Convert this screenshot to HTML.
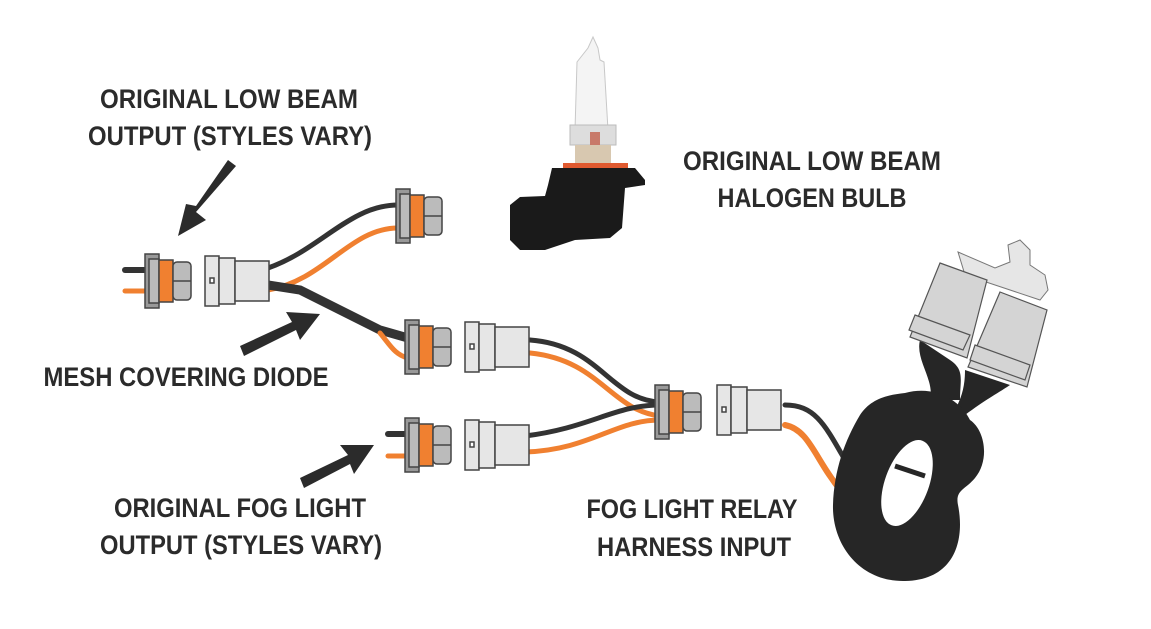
<!DOCTYPE html>
<html><head><style>
body{margin:0;background:#fff;width:1151px;height:629px;overflow:hidden}
svg{display:block}
text{font-family:"Liberation Sans",sans-serif;font-weight:bold;fill:#2b2b2b;font-size:27px;text-anchor:middle}
</style></head><body>
<svg width="1151" height="629" viewBox="0 0 1151 629">
<defs>
<g id="f" stroke="#444" stroke-width="1.5">
<rect x="0" y="-27" width="14" height="54" fill="#999"/>
<rect x="4" y="-22" width="10" height="44" fill="#bbb"/>
<rect x="14" y="-21" width="14" height="42" fill="#f08030"/>
<rect x="28" y="-19" width="18" height="38" rx="4" fill="#bbb"/>
<line x1="28" y1="0" x2="46" y2="0"/>
</g>
<g id="m" stroke="#444" stroke-width="1.5" fill="#e6e6e6">
<rect x="0" y="-25" width="14" height="50"/>
<rect x="14" y="-23" width="16" height="46"/>
<rect x="30" y="-20" width="34" height="40"/>
<rect x="5" y="-3" width="4" height="5" fill="#fff"/>
</g>
</defs>
<g fill="none" stroke-linecap="round">
<path d="M268 268 C320 250,350 205,398 205" stroke="#333" stroke-width="5"/>
<path d="M268 290 C325 280,350 228,398 228" stroke="#f08030" stroke-width="5"/>
<path d="M268 285 L300 290 L380 330 L408 338" stroke="#333" stroke-width="9"/>
<path d="M380 333 C390 345,395 355,408 358" stroke="#f08030" stroke-width="5"/>
<path d="M530 340 C600 345,610 400,660 402" stroke="#333" stroke-width="5"/>
<path d="M530 353 C600 360,610 410,660 416" stroke="#f08030" stroke-width="5"/>
<path d="M525 436 C590 428,615 405,660 405" stroke="#333" stroke-width="5"/>
<path d="M525 452 C590 450,615 420,660 420" stroke="#f08030" stroke-width="5"/>
<path d="M785 405 C815 405,825 425,845 460" stroke="#333" stroke-width="5"/>
<path d="M785 425 C810 430,815 460,842 492" stroke="#f08030" stroke-width="6"/>
<path d="M125 270 H145" stroke="#333" stroke-width="6"/>
<path d="M125 291 H145" stroke="#f08030" stroke-width="5"/>
<path d="M388 434 H405" stroke="#333" stroke-width="6"/>
<path d="M388 456 H405" stroke="#f08030" stroke-width="5"/>
</g>
<use href="#f" x="145" y="281"/>
<use href="#m" x="205" y="281"/>
<use href="#f" x="396" y="216"/>
<use href="#f" x="405" y="347"/>
<use href="#m" x="465" y="347"/>
<use href="#f" x="405" y="445"/>
<use href="#m" x="465" y="445"/>
<use href="#f" x="655" y="412"/>
<use href="#m" x="717" y="410"/>
<!-- bulb -->
<path d="M593 37 L598 48 L600 60 L604 62 L608 130 L575 130 L577 62 L588 48 Z" fill="#f4f4f4" stroke="#c8c8c8"/>
<rect x="570" y="125" width="46" height="20" fill="#ddd" stroke="#bbb"/>
<rect x="590" y="132" width="10" height="14" fill="#c87a6a"/>
<rect x="575" y="145" width="36" height="20" fill="#d8c8b0"/>
<rect x="563" y="163" width="65" height="5" fill="#e05a30"/>
<path d="M552 168 L635 168 L645 180 L645 185 L625 188 L622 228 L610 238 L575 240 L545 250 L520 250 L510 240 L510 205 L520 197 L545 196 L548 185 Z" fill="#1a1a1a"/>
<!-- relay -->
<path d="M958 252 L995 268 L1010 262 L1008 245 L1020 240 L1030 250 L1030 265 L1045 275 L1048 290 L1040 300 L965 275 Z" fill="#e6e6e6" stroke="#777"/>
<path d="M920 340 C915 360,935 380,930 400 L960 400 C960 380,965 370,950 360 Z" fill="#262626"/>
<path d="M965 370 C965 390,960 400,955 410 L965 415 C985 400,995 395,1010 385 Z" fill="#262626"/>
<path d="M905 393 C935 385,960 400,970 420 C985 430,990 460,975 478 C965 490,955 490,958 505 C965 540,955 580,905 581 C860 582,832 545,833 505 C834 470,845 440,860 415 C870 400,885 395,905 393 Z" fill="#262626"/>
<ellipse cx="907" cy="483" rx="22" ry="45" fill="#fff" transform="rotate(20 907 483)"/>
<path d="M895 466 L925 476" stroke="#262626" stroke-width="5"/>
<g fill="#d4d4d4" stroke="#555" stroke-width="1.2">
<path d="M940 263 L987 280 L967 358 L910 337 Z"/>
<path d="M1000 292 L1047 310 L1027 387 L968 367 Z"/>
<path d="M915 315 L970 335 L963 350 L909 330 Z"/>
<path d="M975 345 L1030 365 L1025 380 L970 360 Z"/>
</g>
<!-- arrows -->
<g fill="#2b2b2b">
<path d="M228 160 L236 166 L196 212 L206 220 L178 236 L186 204 L196 206 Z"/>
<path d="M244 356 L240 346 L292 322 L286 312 L320 314 L300 340 L296 330 Z"/>
<path d="M304 488 L300 478 L348 455 L340 445 L374 445 L354 474 L350 464 Z"/>
</g>
<text x="229" y="108" textLength="258" lengthAdjust="spacingAndGlyphs">ORIGINAL LOW BEAM</text>
<text x="230" y="145" textLength="284" lengthAdjust="spacingAndGlyphs">OUTPUT (STYLES VARY)</text>
<text x="812" y="170" textLength="258" lengthAdjust="spacingAndGlyphs">ORIGINAL LOW BEAM</text>
<text x="812" y="207" textLength="189" lengthAdjust="spacingAndGlyphs">HALOGEN BULB</text>
<text x="186" y="386" textLength="285" lengthAdjust="spacingAndGlyphs">MESH COVERING DIODE</text>
<text x="240" y="517" textLength="252" lengthAdjust="spacingAndGlyphs">ORIGINAL FOG LIGHT</text>
<text x="241" y="554" textLength="282" lengthAdjust="spacingAndGlyphs">OUTPUT (STYLES VARY)</text>
<text x="692" y="518" textLength="211" lengthAdjust="spacingAndGlyphs">FOG LIGHT RELAY</text>
<text x="694" y="556" textLength="194" lengthAdjust="spacingAndGlyphs">HARNESS INPUT</text>
</svg>
</body></html>
